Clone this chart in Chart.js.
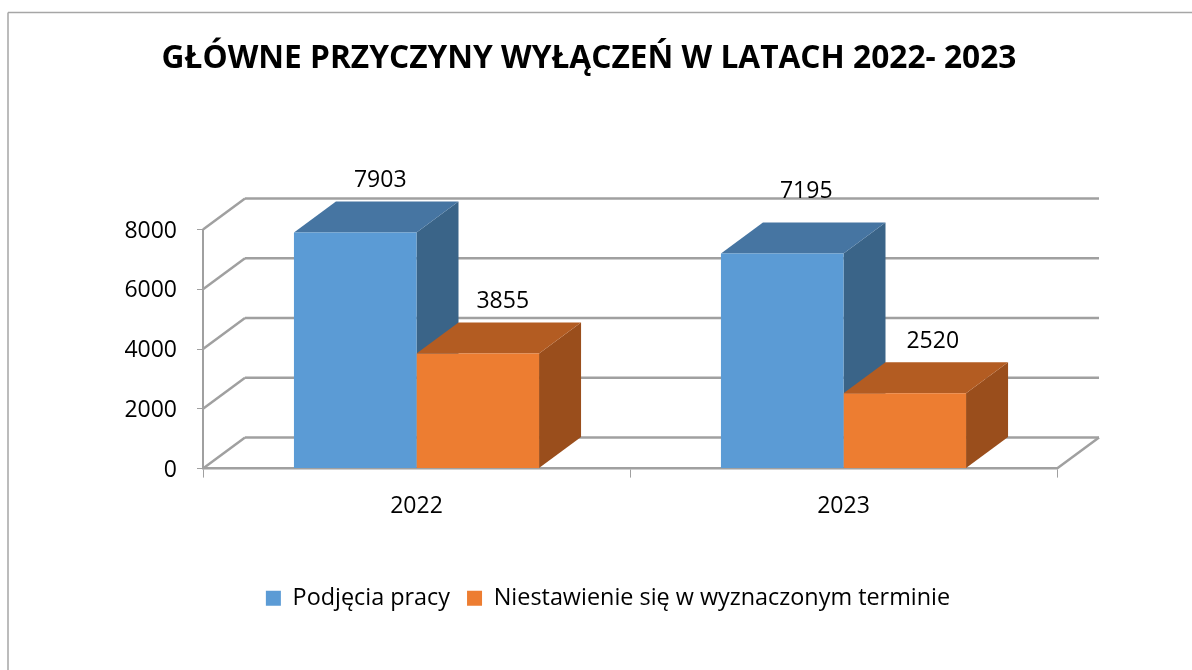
<!DOCTYPE html>
<html>
<head>
<meta charset="utf-8">
<script src="https://cdn.jsdelivr.net/npm/chart.js@4"></script>
<style>
  body { margin: 0; background: #fff; }
  canvas { display: block; }
</style>
</head>
<body>
<canvas id="wylaczeniaChart" width="1192" height="670"></canvas>
<script>
const chartTitle = 'GŁÓWNE PRZYCZYNY WYŁĄCZEŃ W LATACH 2022- 2023';
const years = ['2022', '2023'];
const podjeciaPracy = [7903, 7195];
const niestawienie = [3855, 2520];
const seriesNames = ['Podjęcia pracy', 'Niestawienie się w wyznaczonym terminie'];

const fontName = '"Open Sans", sans-serif';
const gridColor = '#a0a0a0';
const depthX = 42;  // how far the 3D box goes back
const depthY = -31;

const frontColors = ['#5b9bd5', '#ed7d31'];
const topColors = ['#4675a2', '#b35c22'];
const sideColors = ['#3a6488', '#9a4e1c'];

function polygon(ctx, pts, color) {
  ctx.fillStyle = color;
  ctx.beginPath();
  pts.forEach((p, i) => i ? ctx.lineTo(p[0], p[1]) : ctx.moveTo(p[0], p[1]));
  ctx.closePath();
  ctx.fill();
}

function gridLine(ctx, x1, y1, x2, y2) {
  ctx.beginPath();
  ctx.moveTo(x1, y1);
  ctx.lineTo(x2, y2);
  ctx.stroke();
}

const box3d = {
  id: 'box3d',
  afterLayout(chart) {
    // title and legend are not centred on the plot in the original
    chart.titleBlock.left += 4;
    chart.titleBlock.right += 4;
    chart.legend.left += 23;
    chart.legend.right += 23;
  },
  beforeDraw(chart) {
    const ctx = chart.ctx;
    ctx.save();
    ctx.strokeStyle = '#a6a6a6';
    ctx.lineWidth = 1.5;
    gridLine(ctx, 8, 670, 8, 12.5);
    gridLine(ctx, 8, 12.5, 1192, 12.5);
    ctx.restore();
  },
  beforeDatasetsDraw(chart) {
    const ctx = chart.ctx;
    const area = chart.chartArea;
    const yScale = chart.scales.y;
    ctx.save();

    // back wall and side wall grid
    ctx.strokeStyle = gridColor;
    ctx.lineWidth = 2.5;
    yScale.ticks.forEach(t => {
      const y = yScale.getPixelForValue(t.value);
      gridLine(ctx, area.left, y, area.left + depthX, y + depthY);
      gridLine(ctx, area.left + depthX, y + depthY, area.right + depthX, y + depthY);
    });
    gridLine(ctx, area.right, area.bottom, area.right + depthX, area.bottom + depthY);

    // side and top faces, front faces come after from the library
    chart.data.datasets.forEach((ds, i) => {
      chart.getDatasetMeta(i).data.forEach(bar => {
        const l = bar.x - bar.width / 2;
        const r = bar.x + bar.width / 2;
        polygon(ctx, [[r, bar.y], [r + depthX, bar.y + depthY], [r + depthX, bar.base + depthY], [r, bar.base]], sideColors[i]);
        polygon(ctx, [[l, bar.y], [l + depthX, bar.y + depthY], [r + depthX, bar.y + depthY], [r, bar.y]], topColors[i]);
      });
    });
    ctx.restore();
  },
  afterDatasetsDraw(chart) {
    const ctx = chart.ctx;
    ctx.save();
    ctx.fillStyle = '#000';
    ctx.font = '23px ' + fontName;
    ctx.textAlign = 'center';
    ctx.textBaseline = 'middle';
    chart.data.datasets.forEach((ds, i) => {
      chart.getDatasetMeta(i).data.forEach((bar, j) => {
        // the 2023 blue label sits higher and further left in the original
        const low = i === 0 && j === 1;
        const dx = low ? 24 : (j === 1 ? 28 : 25);
        ctx.fillText(ds.data[j], bar.x + dx, bar.y - (low ? 62 : 52));
      });
    });
    ctx.restore();
  }
};

new Chart(document.getElementById('wylaczeniaChart'), {
  type: 'bar',
  data: {
    labels: years,
    datasets: [
      { label: seriesNames[0], data: podjeciaPracy, backgroundColor: frontColors[0] },
      { label: seriesNames[1], data: niestawienie, backgroundColor: frontColors[1] }
    ]
  },
  plugins: [box3d],
  options: {
    responsive: false,
    animation: false,
    layout: { padding: { left: 113, right: 135, top: 0, bottom: 50 } },
    datasets: { bar: { categoryPercentage: 0.574, barPercentage: 1 } },
    plugins: {
      title: {
        display: true,
        text: chartTitle,
        color: '#000',
        font: { family: fontName, size: 31.7, weight: 'bold', lineHeight: 1.2 },
        padding: { top: 40, bottom: 151.5 }
      },
      legend: {
        position: 'bottom',
        labels: {
          color: '#000',
          font: { family: fontName, size: 23.4 },
          boxWidth: 15,
          boxHeight: 15,
          padding: 17
        }
      },
      tooltip: { enabled: false }
    },
    scales: {
      x: {
        grid: { drawOnChartArea: false, color: gridColor, tickLength: 9, lineWidth: 1 },
        border: { color: gridColor, width: 2.5 },
        ticks: { color: '#000', font: { family: fontName, size: 23 }, padding: 15, maxRotation: 0 },
        afterFit(scale) { scale.height = 101; }
      },
      y: {
        min: 0,
        max: 8000,
        grid: { drawOnChartArea: false, color: gridColor, tickLength: 6, lineWidth: 1 },
        border: { color: gridColor, width: 2 },
        ticks: {
          stepSize: 2000,
          color: '#000',
          font: { family: fontName, size: 23 },
          padding: 20,
          labelOffset: 1.5,
          callback: value => String(value) // no thousands separator
        },
        afterFit(scale) { scale.width = 90; }
      }
    }
  }
});
</script>
</body>
</html>
